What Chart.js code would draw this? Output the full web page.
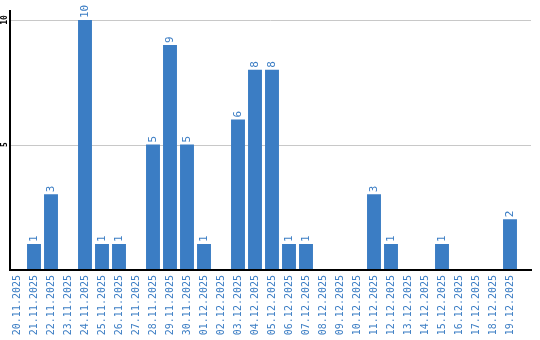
<!DOCTYPE html>
<html lang="en">
<head>
  <meta charset="UTF-8">
  <title>Daily counts</title>
  <script src="https://cdn.jsdelivr.net/npm/chart.js"></script>
  <style>
    body { margin: 0; background: white; }
    #wrap { width: 540px; height: 340px; position: relative; }
  </style>
</head>
<body>
  <div id="wrap"><canvas id="myChart"></canvas></div>
  <script>
    const days = ['20.11.2025','21.11.2025','22.11.2025','23.11.2025','24.11.2025','25.11.2025',
      '26.11.2025','27.11.2025','28.11.2025','29.11.2025','30.11.2025','01.12.2025','02.12.2025',
      '03.12.2025','04.12.2025','05.12.2025','06.12.2025','07.12.2025','08.12.2025','09.12.2025',
      '10.12.2025','11.12.2025','12.12.2025','13.12.2025','14.12.2025','15.12.2025','16.12.2025',
      '17.12.2025','18.12.2025','19.12.2025'];
    const counts = [0,1,3,0,10,1,1,0,5,9,5,1,0,6,8,8,1,1,0,0,0,3,1,0,0,1,0,0,0,2];
    const yTicks = [5, 10];

    const blue = '#3b7dc4';
    const mono = "'DejaVu Sans Mono', monospace";

    // gridlines, axis lines, rotated y ticks and value labels
    const extras = {
      id: 'extras',
      beforeDatasetsDraw(chart) {
        const ctx = chart.ctx;
        const y = chart.scales.y;
        ctx.save();
        ctx.strokeStyle = '#c8c8c8';
        ctx.lineWidth = 1;
        yTicks.forEach(v => {
          const py = Math.round(y.getPixelForValue(v)) + 0.5;
          ctx.beginPath();
          ctx.moveTo(10, py);
          ctx.lineTo(531, py);
          ctx.stroke();
        });
        ctx.restore();
      },
      afterDatasetsDraw(chart) {
        const ctx = chart.ctx;
        const y = chart.scales.y;
        const base = y.getPixelForValue(0);
        ctx.save();
        ctx.strokeStyle = '#000';
        ctx.lineWidth = 2;
        ctx.beginPath();
        ctx.moveTo(10, 10);
        ctx.lineTo(10, base + 1);
        ctx.lineTo(532, base + 1);
        ctx.stroke();

        ctx.fillStyle = '#000';
        ctx.font = 'bold 8px ' + mono;
        ctx.textAlign = 'center';
        ctx.textBaseline = 'middle';
        yTicks.forEach(v => {
          ctx.save();
          ctx.translate(5, y.getPixelForValue(v));
          ctx.rotate(-Math.PI / 2);
          ctx.fillText(String(v), 0, 0);
          ctx.restore();
        });

        ctx.fillStyle = blue;
        ctx.font = '11px ' + mono;
        ctx.textAlign = 'left';
        const meta = chart.getDatasetMeta(0);
        meta.data.forEach((bar, i) => {
          if (!counts[i]) return;
          ctx.save();
          ctx.translate(bar.x, bar.y - 2);
          ctx.rotate(-Math.PI / 2);
          ctx.fillText(String(counts[i]), 0, 0);
          ctx.restore();
        });
        ctx.restore();
      }
    };

    const myChart = new Chart(document.getElementById('myChart'), {
      type: 'bar',
      data: {
        labels: days,
        datasets: [{
          data: counts,
          backgroundColor: blue,
          barPercentage: 0.82,
          categoryPercentage: 1
        }]
      },
      options: {
        responsive: true,
        maintainAspectRatio: false,
        animation: false,
        layout: { padding: { left: 8.5, right: 21.5, top: 20, bottom: 0 } },
        plugins: { legend: { display: false }, tooltip: { enabled: false } },
        scales: {
          x: {
            grid: { display: false, drawTicks: false },
            border: { display: false },
            ticks: {
              color: blue,
              font: { family: mono, size: 10 },
              minRotation: 90,
              maxRotation: 90,
              padding: 6,
              autoSkip: false
            },
            afterFit(scale) { scale.height = 71; }
          },
          y: {
            display: false,
            min: 0,
            max: 10
          }
        }
      },
      plugins: [extras]
    });
  </script>
</body>
</html>
